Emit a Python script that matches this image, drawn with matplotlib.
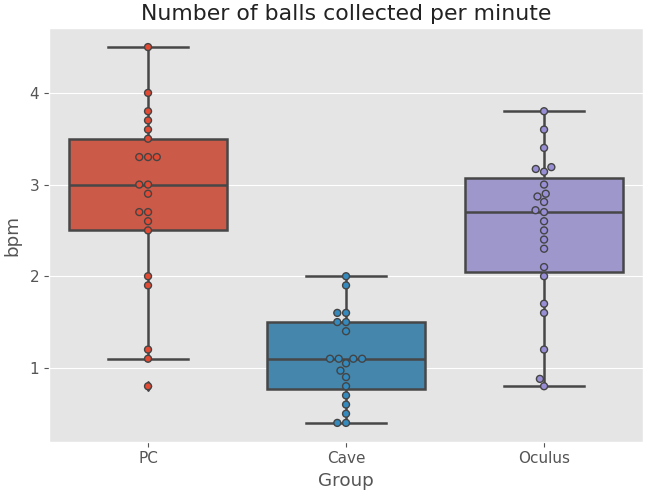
"""
Box plot + swarm of balls collected per minute by group
"""

import matplotlib
matplotlib.use('Agg')
import matplotlib.pyplot as plt
import pandas as pd
import seaborn as sns

groups = ['PC', 'Cave', 'Oculus']
pc_bpm = [0.8, 1.1, 1.2, 1.9, 2.0, 2.5, 2.6, 2.7, 2.7, 2.9, 3.0, 3.0,
          3.3, 3.3, 3.3, 3.5, 3.6, 3.7, 3.8, 4.0, 4.5]
cave_bpm = [0.4, 0.4, 0.5, 0.6, 0.7, 0.8, 0.9, 0.97, 1.05, 1.1, 1.1, 1.1,
            1.1, 1.4, 1.5, 1.5, 1.6, 1.6, 1.9, 2.0]
oculus_bpm = [0.8, 0.88, 1.2, 1.6, 1.7, 2.0, 2.1, 2.3, 2.4, 2.5, 2.6, 2.7,
              2.72, 2.81, 2.87, 2.9, 3.0, 3.14, 3.17, 3.19, 3.4, 3.6, 3.8]
palette = ['#E24A33', '#348ABD', '#988ED5']

plt.style.use('ggplot')
plt.rcParams['font.size'] = 11

df = pd.DataFrame({
    'Group': ['PC'] * len(pc_bpm) + ['Cave'] * len(cave_bpm) + ['Oculus'] * len(oculus_bpm),
    'bpm': pc_bpm + cave_bpm + oculus_bpm,
})

fig, ax = plt.subplots(figsize=(6.45, 4.96), dpi=100)
fig.subplots_adjust(left=0.076, right=0.997, top=0.943, bottom=0.1095)

line_col = '#474747'
sns.boxplot(data=df, x='Group', y='bpm', hue='Group', order=groups, hue_order=groups,
            palette=palette, saturation=0.75, linewidth=1.8, linecolor=line_col,
            width=0.8, legend=False, ax=ax,
            flierprops=dict(marker='d', markerfacecolor=line_col,
                            markeredgecolor=line_col, markersize=5))
sns.swarmplot(data=df, x='Group', y='bpm', hue='Group', order=groups, hue_order=groups,
              palette=palette, size=5, linewidth=1, edgecolor='#444444',
              legend=False, ax=ax)

ax.xaxis.grid(False)
ax.set_title('Number of balls collected per minute', color='#222222')
ax.set_xlabel('Group')
ax.set_ylabel('bpm', labelpad=6)

plt.savefig('out.png', dpi=100)
